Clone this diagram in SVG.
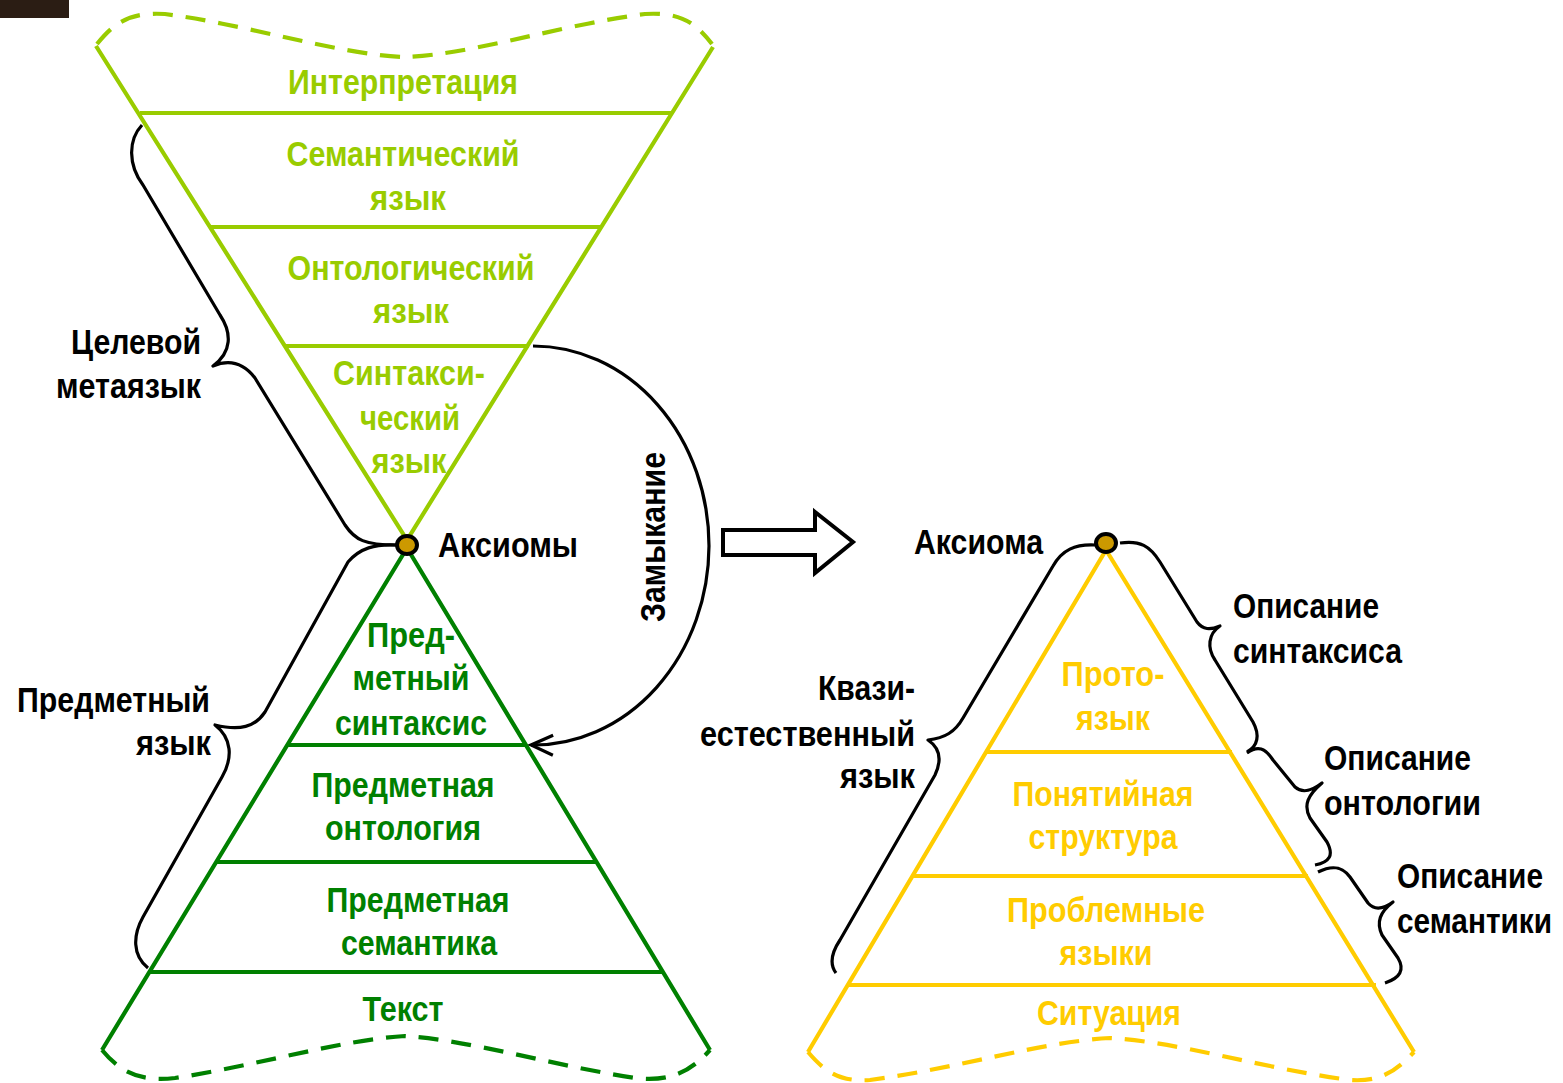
<svg xmlns="http://www.w3.org/2000/svg" width="1563" height="1083" viewBox="0 0 1563 1083">
<style>
text{font-family:"Liberation Sans Narrow","Liberation Sans",Arial,sans-serif;font-weight:bold;font-size:35px}
.lg{fill:#99CC00}.dg{fill:#008000}.gd{fill:#FFCC00}.bk{fill:#000}
.m{text-anchor:middle}.e{text-anchor:end}
.sl{stroke:#99CC00;stroke-width:4.2;fill:none}
.sd{stroke:#008000;stroke-width:4.2;fill:none}
.sg{stroke:#FFCC00;stroke-width:4.2;fill:none}
.dash{stroke-dasharray:20 13}
.br{stroke:#000;stroke-width:3.2;fill:none;stroke-linejoin:round}
.ax{fill:#CC9900;stroke:#000;stroke-width:4}
</style>
<defs>
<marker id="openArrow" markerUnits="userSpaceOnUse" markerWidth="26" markerHeight="24" viewBox="0 0 26 24" refX="23" refY="12" orient="auto">
<path d="M1,2 L23,12 L1,22" fill="none" stroke="#000" stroke-width="3.2"/>
</marker>
</defs>
<rect x="0" y="0" width="69" height="18" fill="#2b1d14"/>

<g id="top-funnel">
<path class="sl" d="M96,46 L407,540 L713,47"/>
<path class="sl dash" d="M97,44 C115,22 130,12 165,14 C250,25 340,55 405,57 C470,55 560,25 645,14 C680,12 695,22 712,44"/>
<line class="sl" x1="140" y1="113" x2="672" y2="113"/>
<line class="sl" x1="210" y1="227" x2="601" y2="227"/>
<line class="sl" x1="285" y1="346" x2="529" y2="346"/>
<text class="lg m" x="403" y="94" textLength="230" lengthAdjust="spacingAndGlyphs">Интерпретация</text>
<text class="lg m" x="403" y="166" textLength="233" lengthAdjust="spacingAndGlyphs">Семантический</text>
<text class="lg m" x="408" y="210" textLength="76" lengthAdjust="spacingAndGlyphs">язык</text>
<text class="lg m" x="411" y="280" textLength="247" lengthAdjust="spacingAndGlyphs">Онтологический</text>
<text class="lg m" x="411" y="323" textLength="76" lengthAdjust="spacingAndGlyphs">язык</text>
<text class="lg m" x="409" y="385" textLength="152" lengthAdjust="spacingAndGlyphs">Синтакси-</text>
<text class="lg m" x="410" y="430" textLength="100" lengthAdjust="spacingAndGlyphs">ческий</text>
<text class="lg m" x="409" y="473" textLength="75" lengthAdjust="spacingAndGlyphs">язык</text>
</g>

<g id="bottom-pyramid">
<path class="sd" d="M102,1050 L407,548 L710,1050"/>
<path class="sd dash" d="M102,1050 C120,1072 140,1082 175,1078 C260,1065 340,1040 405,1036 C470,1040 550,1065 635,1078 C670,1082 690,1072 710,1050"/>
<line class="sd" x1="287" y1="745" x2="527" y2="745"/>
<line class="sd" x1="215" y1="862" x2="597" y2="862"/>
<line class="sd" x1="148" y1="972" x2="664" y2="972"/>
<text class="dg m" x="411" y="647" textLength="88" lengthAdjust="spacingAndGlyphs">Пред-</text>
<text class="dg m" x="411" y="690" textLength="117" lengthAdjust="spacingAndGlyphs">метный</text>
<text class="dg m" x="411" y="735" textLength="152" lengthAdjust="spacingAndGlyphs">синтаксис</text>
<text class="dg m" x="403" y="797" textLength="183" lengthAdjust="spacingAndGlyphs">Предметная</text>
<text class="dg m" x="403" y="840" textLength="156" lengthAdjust="spacingAndGlyphs">онтология</text>
<text class="dg m" x="418" y="912" textLength="183" lengthAdjust="spacingAndGlyphs">Предметная</text>
<text class="dg m" x="419" y="955" textLength="156" lengthAdjust="spacingAndGlyphs">семантика</text>
<text class="dg m" x="403" y="1021" textLength="81" lengthAdjust="spacingAndGlyphs">Текст</text>
</g>

<g id="right-pyramid">
<path class="sg" d="M808,1052 L1106,550 L1414,1052"/>
<path class="sg dash" d="M808,1052 C825,1072 840,1082 870,1080 C960,1068 1040,1042 1110,1038 C1180,1042 1260,1068 1350,1080 C1380,1082 1395,1072 1414,1052"/>
<line class="sg" x1="985" y1="752" x2="1232" y2="752"/>
<line class="sg" x1="912" y1="876" x2="1308" y2="876"/>
<line class="sg" x1="847" y1="985" x2="1376" y2="985"/>
<text class="gd m" x="1113" y="686" textLength="103" lengthAdjust="spacingAndGlyphs">Прото-</text>
<text class="gd m" x="1113" y="730" textLength="74" lengthAdjust="spacingAndGlyphs">язык</text>
<text class="gd m" x="1103" y="806" textLength="181" lengthAdjust="spacingAndGlyphs">Понятийная</text>
<text class="gd m" x="1103" y="849" textLength="149" lengthAdjust="spacingAndGlyphs">структура</text>
<text class="gd m" x="1106" y="922" textLength="198" lengthAdjust="spacingAndGlyphs">Проблемные</text>
<text class="gd m" x="1106" y="965" textLength="93" lengthAdjust="spacingAndGlyphs">языки</text>
<text class="gd m" x="1109" y="1025" textLength="144" lengthAdjust="spacingAndGlyphs">Ситуация</text>
</g>

<g id="connectors">
<path class="br" d="M533,346 A176,200 0 0 1 709,546 A176,200 0 0 1 531,745" marker-end="url(#openArrow)"/>
<polygon points="723,530 815,530 815,512 853,542 815,573 815,555 723,555" fill="#fff" stroke="#000" stroke-width="4" stroke-linejoin="miter"/>
<path class="br" d="M142,125 C128,140 128,165 143,185 L220,315 C232,333 232,352 213,366 C232,358 245,365 255,378 L345,525 C355,540 365,545 396,545"/>
<path class="br" d="M396,545 C375,544 360,548 348,562 L265,712 C255,727 240,731 215,725 C232,738 233,758 222,777 L143,917 C133,935 132,955 148,968"/>
<path class="br" d="M1095,545 C1075,544 1062,550 1053,566 L963,718 C955,732 945,738 928,740 C940,748 942,760 935,775 L840,940 C830,955 830,965 836,973"/>
<path class="br" d="M1120,543 C1140,540 1150,546 1160,562 L1197,622 C1203,630 1210,630 1220,626 C1208,634 1207,648 1215,660 L1253,722 C1260,735 1258,746 1247,752"/>
<path class="br" d="M1247,753 C1258,745 1265,748 1273,760 L1295,787 C1302,793 1310,792 1322,783 C1308,795 1303,805 1310,818 L1327,842 C1334,855 1330,862 1315,865"/>
<path class="br" d="M1318,872 C1332,865 1342,866 1350,877 L1368,903 C1374,910 1382,910 1393,902 C1380,912 1376,922 1382,935 L1398,958 C1405,970 1400,978 1385,983"/>
</g>

<g id="axioms-left">
<ellipse class="ax" cx="407" cy="545" rx="10" ry="9"/>
<text class="bk" x="438" y="557" textLength="140" lengthAdjust="spacingAndGlyphs">Аксиомы</text>
</g>
<g id="axiom-right">
<ellipse class="ax" cx="1106" cy="543" rx="10" ry="9"/>
<text class="bk" x="914" y="554" textLength="129" lengthAdjust="spacingAndGlyphs">Аксиома</text>
</g>

<g id="label-target-metalanguage">
<text class="bk e" x="201" y="354" textLength="130" lengthAdjust="spacingAndGlyphs">Целевой</text>
<text class="bk e" x="201" y="398" textLength="145" lengthAdjust="spacingAndGlyphs">метаязык</text>
</g>
<g id="label-subject-language">
<text class="bk e" x="210" y="712" textLength="193" lengthAdjust="spacingAndGlyphs">Предметный</text>
<text class="bk e" x="211" y="755" textLength="75" lengthAdjust="spacingAndGlyphs">язык</text>
</g>
<g id="label-closure">
<text class="bk m" transform="translate(665,537) rotate(-90)" x="0" y="0" textLength="170" lengthAdjust="spacingAndGlyphs">Замыкание</text>
</g>
<g id="label-quasi">
<text class="bk e" x="915" y="700" textLength="97" lengthAdjust="spacingAndGlyphs">Квази-</text>
<text class="bk e" x="915" y="746" textLength="215" lengthAdjust="spacingAndGlyphs">естественный</text>
<text class="bk e" x="915" y="788" textLength="75" lengthAdjust="spacingAndGlyphs">язык</text>
</g>
<g id="label-syntax">
<text class="bk" x="1233" y="618" textLength="146" lengthAdjust="spacingAndGlyphs">Описание</text>
<text class="bk" x="1233" y="663" textLength="169" lengthAdjust="spacingAndGlyphs">синтаксиса</text>
</g>
<g id="label-ontology">
<text class="bk" x="1324" y="770" textLength="147" lengthAdjust="spacingAndGlyphs">Описание</text>
<text class="bk" x="1324" y="815" textLength="157" lengthAdjust="spacingAndGlyphs">онтологии</text>
</g>
<g id="label-semantics">
<text class="bk" x="1397" y="888" textLength="146" lengthAdjust="spacingAndGlyphs">Описание</text>
<text class="bk" x="1397" y="933" textLength="155" lengthAdjust="spacingAndGlyphs">семантики</text>
</g>
</svg>
